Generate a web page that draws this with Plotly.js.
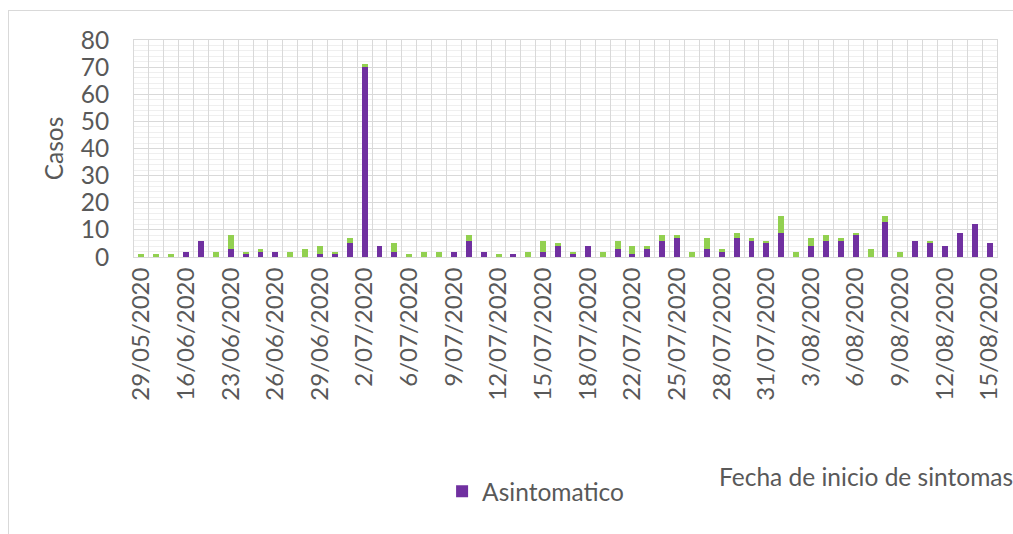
<!DOCTYPE html>
<html>
<head>
<meta charset="utf-8">
<script src="https://cdn.plot.ly/plotly-3.0.1.min.js"></script>
<style>
  html, body { margin: 0; padding: 0; background: #ffffff; }
  #wrap { position: relative; width: 1013px; height: 534px; overflow: hidden; }
  #chart { width: 1013px; height: 534px; }
  #frame { position: absolute; left: 8px; top: 10px; width: 1010px; height: 530px;
           border-top: 1px solid #d9d9d9; border-left: 1px solid #d9d9d9; pointer-events: none; }
</style>
</head>
<body>
<div id="wrap">
  <div id="chart"></div>
  <div id="frame"></div>
</div>
<script>
const fechas = ["29/05/2020","8/06/2020","13/06/2020","16/06/2020","18/06/2020","21/06/2020",
  "23/06/2020","24/06/2020","25/06/2020","26/06/2020","27/06/2020","28/06/2020",
  "29/06/2020","30/06/2020","1/07/2020","2/07/2020","3/07/2020","4/07/2020",
  "6/07/2020","7/07/2020","8/07/2020","9/07/2020","10/07/2020","11/07/2020",
  "12/07/2020","13/07/2020","14/07/2020","15/07/2020","16/07/2020","17/07/2020",
  "18/07/2020","19/07/2020","20/07/2020","22/07/2020","23/07/2020","24/07/2020",
  "25/07/2020","26/07/2020","27/07/2020","28/07/2020","29/07/2020","30/07/2020",
  "31/07/2020","1/08/2020","2/08/2020","3/08/2020","4/08/2020","5/08/2020",
  "6/08/2020","7/08/2020","8/08/2020","9/08/2020","10/08/2020","11/08/2020",
  "12/08/2020","13/08/2020","14/08/2020","15/08/2020"];

const asintomatico = [0,0,0,2,6,0,3,1,2,2,0,0,1,1,5,70,4,2,0,0,0,2,6,2,0,1,0,2,4,1,
  4,0,3,1,3,6,7,0,3,2,7,6,5,9,0,4,6,6,8,0,13,0,6,5,4,9,12,5];

const sintomatico = [1,1,1,0,0,2,5,1,1,0,2,3,3,1,2,1,0,3,1,2,2,0,2,0,1,0,2,4,1,1,
  0,2,3,3,1,2,1,2,4,1,2,1,1,6,2,3,2,1,1,3,2,2,0,1,0,0,0,0];

// tick labels shown every third category
const etiquetas = fechas.map((f, i) => (i % 3 === 0 ? f : ""));

const txt = "#595959";
const fnt = "Lato, 'Open Sans', sans-serif";
const fs = 24.5;

const traces = [
  { type: "bar", name: "Asintomatico", x: fechas, y: asintomatico,
    marker: { color: "#7030A0" }, hoverinfo: "skip" },
  { type: "bar", name: "Sintomatico", x: fechas, y: sintomatico,
    marker: { color: "#92D050" }, showlegend: false, hoverinfo: "skip" }
];

const layout = {
  width: 1013, height: 534,
  margin: { l: 133.5, r: 16, t: 39.5, b: 277, pad: 0 },
  paper_bgcolor: "rgba(0,0,0,0)", plot_bgcolor: "#ffffff",
  barmode: "stack", bargap: 0.6,
  font: { family: fnt, size: fs, color: txt },
  showlegend: true,
  legend: { x: 0.357, xanchor: "left", y: -1.08, yanchor: "middle",
            orientation: "h", font: { family: fnt, size: fs, color: txt },
            bgcolor: "rgba(0,0,0,0)" },
  xaxis: {
    type: "category", categoryorder: "array", categoryarray: fechas,
    tickmode: "array", tickvals: fechas, ticktext: etiquetas,
    tickangle: -90, tickson: "boundaries", ticks: "",
    showgrid: true, gridcolor: "#d9d9d9", gridwidth: 1,
    showline: true, linecolor: "#d9d9d9", linewidth: 1, mirror: true,
    tickfont: { family: fnt, size: 24, color: txt },
    range: [-0.5, fechas.length - 0.5], fixedrange: true
  },
  xaxis2: {
    overlaying: "x", anchor: "y", type: "linear",
    range: [-0.5, fechas.length - 0.5], tick0: 0, dtick: 1,
    showgrid: true, gridcolor: "#efefef", gridwidth: 1,
    showticklabels: false, ticks: "", zeroline: false, showline: false
  },
  yaxis: {
    range: [0, 80], tick0: 0, dtick: 10,
    showgrid: true, gridcolor: "#d9d9d9", gridwidth: 1,
    minor: { dtick: 2, showgrid: true, gridcolor: "#efefef", gridwidth: 1 },
    zeroline: false, showline: true, linecolor: "#d9d9d9", mirror: true,
    ticks: "", ticklabelstandoff: 19,
    tickfont: { family: fnt, size: fs, color: txt },
    title: { text: "Casos", standoff: 10, font: { family: fnt, size: fs, color: txt } },
    fixedrange: true
  },
  annotations: [
    { text: "Fecha de inicio de sintomas", xref: "paper", yref: "paper",
      x: (717 - 133.5) / 863.5, xanchor: "left", y: -1.011, yanchor: "middle",
      showarrow: false, font: { family: fnt, size: fs, color: txt } }
  ]
};

Plotly.newPlot("chart", traces, layout, { staticPlot: true, displayModeBar: false });
</script>
</body>
</html>
